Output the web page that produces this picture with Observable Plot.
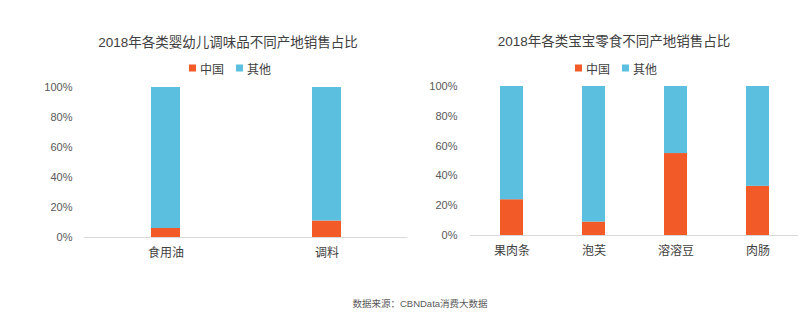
<!DOCTYPE html>
<html>
<head>
<meta charset="utf-8">
<script src="https://cdn.jsdelivr.net/npm/d3@7"></script>
<script src="https://cdn.jsdelivr.net/npm/@observablehq/plot@0.6"></script>
<style>
  html, body { margin: 0; padding: 0; background: #fff; }
  body { width: 800px; height: 320px; position: relative; overflow: hidden;
         font-family: "Liberation Sans", "Noto Sans CJK SC", sans-serif; }
  .abs { position: absolute; }
  .title { font-size: 13.5px; color: #404040; white-space: nowrap; transform: translate(-50%, -50%); }
  .legend { font-size: 12px; color: #404040; white-space: nowrap; transform: translate(-50%, -50%); display: flex; align-items: center; gap: 0; }
  .legend .sw { display: inline-block; width: 7px; height: 7px; margin-right: 4px; }
  .legend .item { display: inline-flex; align-items: center; margin: 0 6px; }
  .footer { font-size: 9.5px; color: #595959; white-space: nowrap; transform: translate(-50%, -50%); }
  svg { position: absolute; top: 0; overflow: visible; }
</style>
</head>
<body>
<script>
// ---- data ----
const seriesNames = ["中国", "其他"];
const colors = ["#F25A27", "#5BC0E0"];

const leftTitle = "2018年各类婴幼儿调味品不同产地销售占比";
const leftCategories = ["食用油", "调料"];
const leftChina = [6, 11];

const rightTitle = "2018年各类宝宝零食不同产地销售占比";
const rightCategories = ["果肉条", "泡芙", "溶溶豆", "肉肠"];
const rightChina = [24, 9, 55, 33];

const yTicks = [0, 20, 40, 60, 80, 100];
const sourceText = "数据来源：CBNData消费大数据";

const FONT = '"Liberation Sans", "Noto Sans CJK SC", sans-serif';

function toRows(cats, china) {
  const rows = [];
  cats.forEach((c, i) => {
    rows.push({cat: c, series: seriesNames[0], value: china[i]});
    rows.push({cat: c, series: seriesNames[1], value: 100 - china[i]});
  });
  return rows;
}

function makeChart(cats, china, opts) {
  return Plot.plot({
    width: opts.width,
    height: opts.height,
    marginTop: opts.marginTop,
    marginBottom: opts.marginBottom,
    marginLeft: opts.marginLeft,
    marginRight: opts.marginRight,
    style: { fontFamily: FONT, background: "transparent", overflow: "visible" },
    x: { domain: cats, paddingInner: opts.pi, paddingOuter: opts.pi / 2, label: null },
    y: { domain: [0, 100], label: null },
    color: { domain: seriesNames, range: colors },
    marks: [
      Plot.axisY({ ticks: yTicks, tickFormat: d => d + "%", tickSize: 0, tickPadding: opts.yPad, fontSize: 11, fill: "#595959", label: null }),
      Plot.axisX({ tickSize: 0, tickPadding: 11, fontSize: 12, fill: "#404040", label: null }),
      Plot.barY(toRows(cats, china), Plot.stackY({ x: "cat", y: "value", fill: "series", order: seriesNames })),
      Plot.ruleY([0], { stroke: "#d9d9d9", strokeWidth: 1 })
    ]
  });
}

function addDiv(cls, x, y, html) {
  const d = document.createElement("div");
  d.className = "abs " + cls;
  d.style.left = x + "px";
  d.style.top = y + "px";
  d.innerHTML = html;
  document.body.appendChild(d);
  return d;
}

function legendHTML() {
  return seriesNames.map((s, i) =>
    `<span class="item"><span class="sw" style="background:${colors[i]}"></span>${s}</span>`).join("");
}

// left chart
const left = makeChart(leftCategories, leftChina, {
  width: 410, height: 270, marginTop: 87, marginBottom: 33, marginLeft: 84, marginRight: 3, pi: 0.82, yPad: 12
});
left.style.left = "0px";
document.body.appendChild(left);

// right chart
const right = makeChart(rightCategories, rightChina, {
  width: 400, height: 270, marginTop: 86, marginBottom: 35, marginLeft: 70, marginRight: 2, pi: 0.72, yPad: 13
});
right.style.left = "400px";
document.body.appendChild(right);

addDiv("title", 228, 41, leftTitle);
addDiv("title", 614, 40, rightTitle);
addDiv("legend", 230, 68, legendHTML());
addDiv("legend", 616, 68, legendHTML());
addDiv("footer", 420, 303, sourceText);
</script>
</body>
</html>
